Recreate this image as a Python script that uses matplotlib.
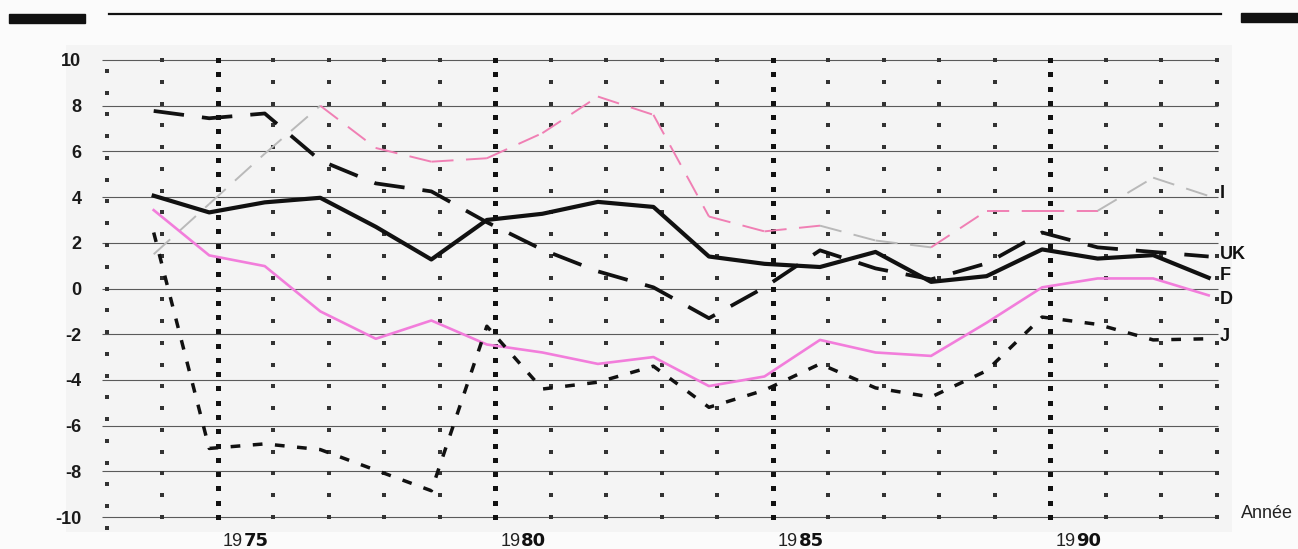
import numpy as np
import matplotlib
matplotlib.use("Agg")
import matplotlib.pyplot as plt
from matplotlib.patches import Rectangle
from matplotlib.lines import Line2D

# Annual values, 1973-1992
years = np.arange(1973, 1993)
france = [4.06, 3.33, 3.77, 3.97, 2.7, 1.27, 3.0, 3.27, 3.79, 3.57,
          1.4, 1.08, 0.94, 1.6, 0.29, 0.54, 1.71, 1.31, 1.46, 0.47]
uk = [7.77, 7.45, 7.66, 5.6, 4.6, 4.25, 2.9, 1.7, 0.75, 0.05,
      -1.3, 0.05, 1.67, 0.88, 0.4, 1.1, 2.45, 1.8, 1.6, 1.4]
italy = [1.5, 3.7, 5.9, 8.0, 6.15, 5.55, 5.7, 6.8, 8.4, 7.6,
         3.15, 2.5, 2.75, 2.1, 1.8, 3.4, 3.4, 3.4, 4.85, 4.05]
germany = [3.43, 1.45, 0.98, -1.0, -2.2, -1.4, -2.45, -2.8, -3.3, -3.0,
           -4.27, -3.85, -2.25, -2.8, -2.95, -1.5, 0.05, 0.44, 0.44, -0.3]
japan = [2.45, -7.0, -6.8, -7.05, -7.95, -8.85, -1.65, -4.4, -4.1, -3.4,
         -5.2, -4.45, -3.3, -4.35, -4.75, -3.6, -1.25, -1.57, -2.25, -2.2]

year_labels = [1975, 1980, 1985, 1990]
y_ticks = list(range(-10, 11, 2))

# colour of each Italy segment (between consecutive years)
GRAY, PINK = "#b9b9b9", "#f07fb4"
italy_seg_colors = [GRAY, GRAY, GRAY, PINK, PINK, PINK, PINK, PINK, PINK, PINK,
                    PINK, PINK, GRAY, GRAY, PINK, PINK, PINK, GRAY, GRAY]

plt.rcParams["font.family"] = ["Liberation Sans", "DejaVu Sans"]
plt.rcParams["lines.scale_dashes"] = False

W, H = 1298, 549
fig = plt.figure(figsize=(W / 100, H / 100), dpi=100, facecolor="#fbfbfb")

# slightly darker panel behind the plot
bg = fig.add_axes([66 / W, (H - 532) / H, (1232 - 66) / W, (532 - 45) / H], zorder=-5)
bg.set_facecolor("#f4f4f4")
bg.set_xticks([])
bg.set_yticks([])
for s in bg.spines.values():
    s.set_visible(False)

ax = fig.add_axes([106.5 / W, (H - 517) / H, (1217 - 106.5) / W, (517 - 60) / H], zorder=1)
ax.set_xlim(0, 20)
ax.set_ylim(-10, 10)
ax.patch.set_visible(False)
for s in ax.spines.values():
    s.set_visible(False)
ax.set_xticks([])
ax.set_yticks(y_ticks)
ax.set_yticklabels([str(v) for v in y_ticks], fontsize=13, fontweight="bold",
                   color="#1a1a1a")
ax.tick_params(axis="y", length=0, pad=18)

# horizontal grid
ax.hlines(y_ticks, -0.08, 20.02, color="#5a5a5a", lw=0.8, zorder=1, clip_on=False)

# dotted columns
thick_cols = [y - 1973 for y in year_labels]
reg_cols = [k for k in range(1, 21) if k not in thick_cols]
reg_y = np.linspace(-10, 10, 22)
xs = np.repeat(reg_cols, len(reg_y))
ys = np.tile(reg_y, len(reg_cols))
ax.plot(xs, ys, "s", ms=2.4, mew=0, color="#333333", zorder=2, clip_on=False)
ax.plot(np.zeros(22), np.arange(-11, 11) * 20 / 21, "s", ms=2.4, mew=0,
        color="#333333", zorder=2, clip_on=False)
thick_y = np.linspace(-10, 10, 33)
ax.plot(np.repeat(thick_cols, len(thick_y)), np.tile(thick_y, len(thick_cols)), "s",
        ms=3.6, mew=0, color="#111111", zorder=2, clip_on=False)

x = years - 1972.15

# Italy: thin dashed line, segment colours vary
for i, c in enumerate(italy_seg_colors):
    ax.plot(x[i:i + 2], italy[i:i + 2], color=c, lw=1.4, ls=(0, (16, 9)),
            zorder=3, clip_on=False)

ax.plot(x, germany, color="#f27ddb", lw=1.9, zorder=4, clip_on=False)
ax.plot(x, japan, color="#111111", lw=2.5, ls=(0, (7, 9)), zorder=5, clip_on=False)
ax.plot(x, uk, color="#111111", lw=2.7, ls=(0, (22, 13)), zorder=5, clip_on=False)
ax.plot(x, france, color="#111111", lw=3.0, zorder=6, clip_on=False)

# series names at the right end
end_labels = [("I", italy[-1] + 0.12), ("UK", uk[-1] + 0.1), ("F", france[-1] + 0.08),
              ("D", germany[-1] - 0.2), ("J", japan[-1] + 0.08)]
for name, yv in end_labels:
    ax.text(20.05, yv, name, fontsize=13, fontweight="bold", va="center", ha="left",
            color="#111111", zorder=7)

# year labels: "19" light, last two digits bold and wide
ty = -(541 - 517) / (517 - 60)
for yr in year_labels:
    pos = yr - 1972.54
    s = str(yr)
    ax.annotate(s[:2], (pos, ty), xycoords=ax.get_xaxis_transform(),
                xytext=(-0.3, 0), textcoords="offset points", ha="right",
                va="center", fontsize=13, color="#222222")
    ax.annotate(s[2:], (pos, ty), xycoords=ax.get_xaxis_transform(),
                xytext=(0.2, 0), textcoords="offset points", ha="left",
                va="center", fontsize=13, fontweight="bold", color="#111111",
                family="DejaVu Sans")

fig.text(1241 / W, (H - 513) / H, "Année", ha="left", va="center", fontsize=13,
         color="#222222")

# header rule and side bars
fig.add_artist(Line2D([108.7 / W, 1220.5 / W], [(H - 13.5) / H] * 2,
                      color="#111111", lw=1.6))
fig.patches.append(Rectangle((9 / W, (H - 23) / H), 76 / W, 9 / H,
                             transform=fig.transFigure, color="#111111"))
fig.patches.append(Rectangle((1241 / W, (H - 22) / H), 57 / W, 9 / H,
                             transform=fig.transFigure, color="#111111"))

fig.savefig("out.png", dpi=100, facecolor=fig.get_facecolor())
